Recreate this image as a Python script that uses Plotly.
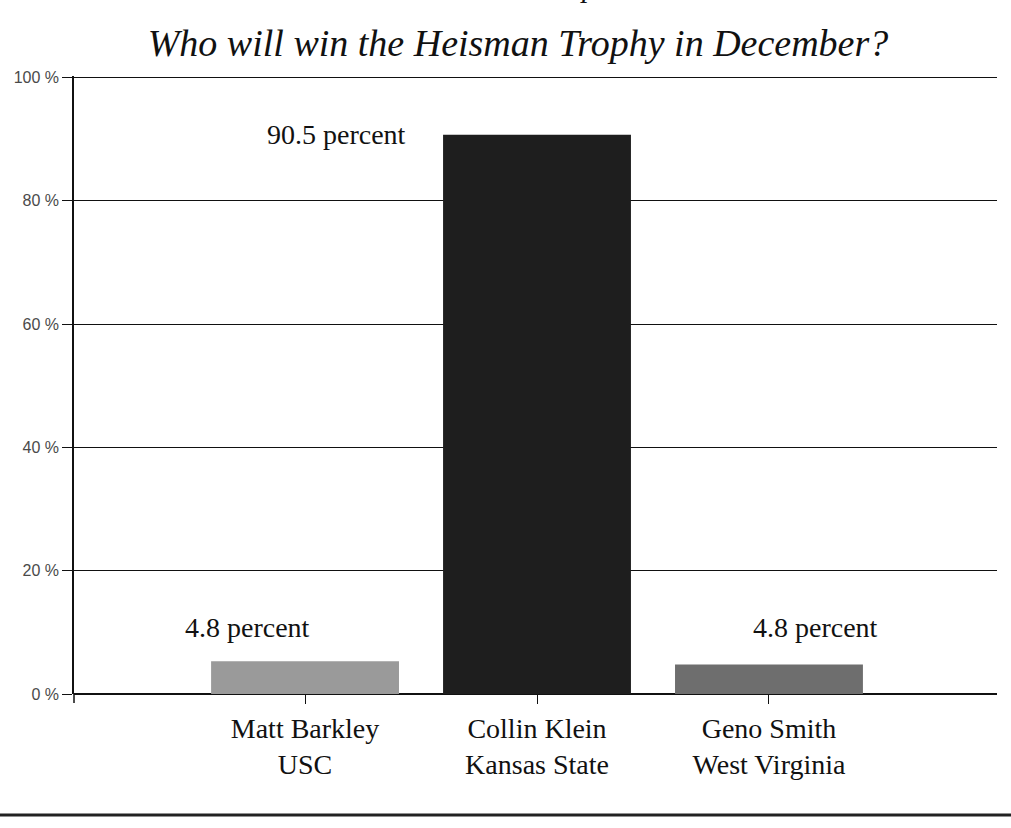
import plotly.graph_objects as go

categories = ["Matt Barkley<br>USC", "Collin Klein<br>Kansas State", "Geno Smith<br>West Virginia"]
values = [5.3, 90.7, 4.8]
bar_colors = ["#9a9a9a", "#1e1e1e", "#6e6e6e"]
label_texts = ["4.8 percent", "90.5 percent", "4.8 percent"]
label_x = [-0.246, 0.134, 2.20]
label_y = [10.8, 90.8, 10.8]
tick_vals = [0, 20, 40, 60, 80, 100]
tick_text = ["0 %", "20 %", "40 %", "60 %", "80 %", "100 %"]
title_text = "Who will win the Heisman Trophy in December?"

fig = go.Figure()
fig.add_trace(go.Bar(
    x=[0, 1, 2], y=values, width=0.81,
    marker=dict(color=bar_colors, line=dict(width=0)),
    hoverinfo="skip",
))

for t, x, y in zip(label_texts, label_x, label_y):
    fig.add_annotation(x=x, y=y, text=t, showarrow=False, xref="x", yref="y",
                       font=dict(family="Liberation Serif", size=28, color="#111"))

# fragment of a cropped line of text at the very top
fig.add_annotation(x=(588 - 74) / 923, y=(694 + 14) / 618, xref="paper", yref="paper",
                   text="<i>p</i>", showarrow=False, yanchor="middle",
                   font=dict(family="Liberation Serif", size=30, color="#111"))

# bottom rule
fig.add_shape(type="line", xref="paper", yref="paper", x0=-74/923, x1=(1011-74)/923,
              y0=(694-815)/618, y1=(694-815)/618, line=dict(color="#222", width=3))
# axis line extension below zero
fig.add_shape(type="line", xref="paper", yref="paper", x0=0, x1=0, y0=0, y1=-9/618,
              line=dict(color="#111", width=1.5))

fig.update_layout(
    width=1011, height=828,
    margin=dict(l=74, r=14, t=76, b=134),
    paper_bgcolor="white", plot_bgcolor="white",
    showlegend=False,
    title=dict(text="<i>" + title_text + "</i>", x=518/1011, xanchor="center", xref="container",
               y=1 - 43/828, yanchor="middle",
               font=dict(family="Liberation Serif", size=38, color="#111")),
    xaxis=dict(range=[-0.996, 2.983], tickvals=[0, 1, 2], ticktext=categories,
               ticks="outside", ticklen=9, tickcolor="#111", tickwidth=1.2,
               showgrid=False, zeroline=False, showline=False,
               tickfont=dict(family="Liberation Serif", size=28, color="#111")),
    yaxis=dict(range=[0, 100.25], tickvals=tick_vals, ticktext=tick_text,
               ticks="outside", ticklen=10, tickcolor="#111", tickwidth=1.2,
               showgrid=True, gridcolor="#111", gridwidth=1.3,
               zeroline=True, zerolinecolor="#111", zerolinewidth=1.5,
               showline=True, linecolor="#111", linewidth=1.5,
               tickfont=dict(family="Liberation Sans", size=16, color="#4a4a4a")),
    bargap=0.2,
)

fig.write_html("out.html")
